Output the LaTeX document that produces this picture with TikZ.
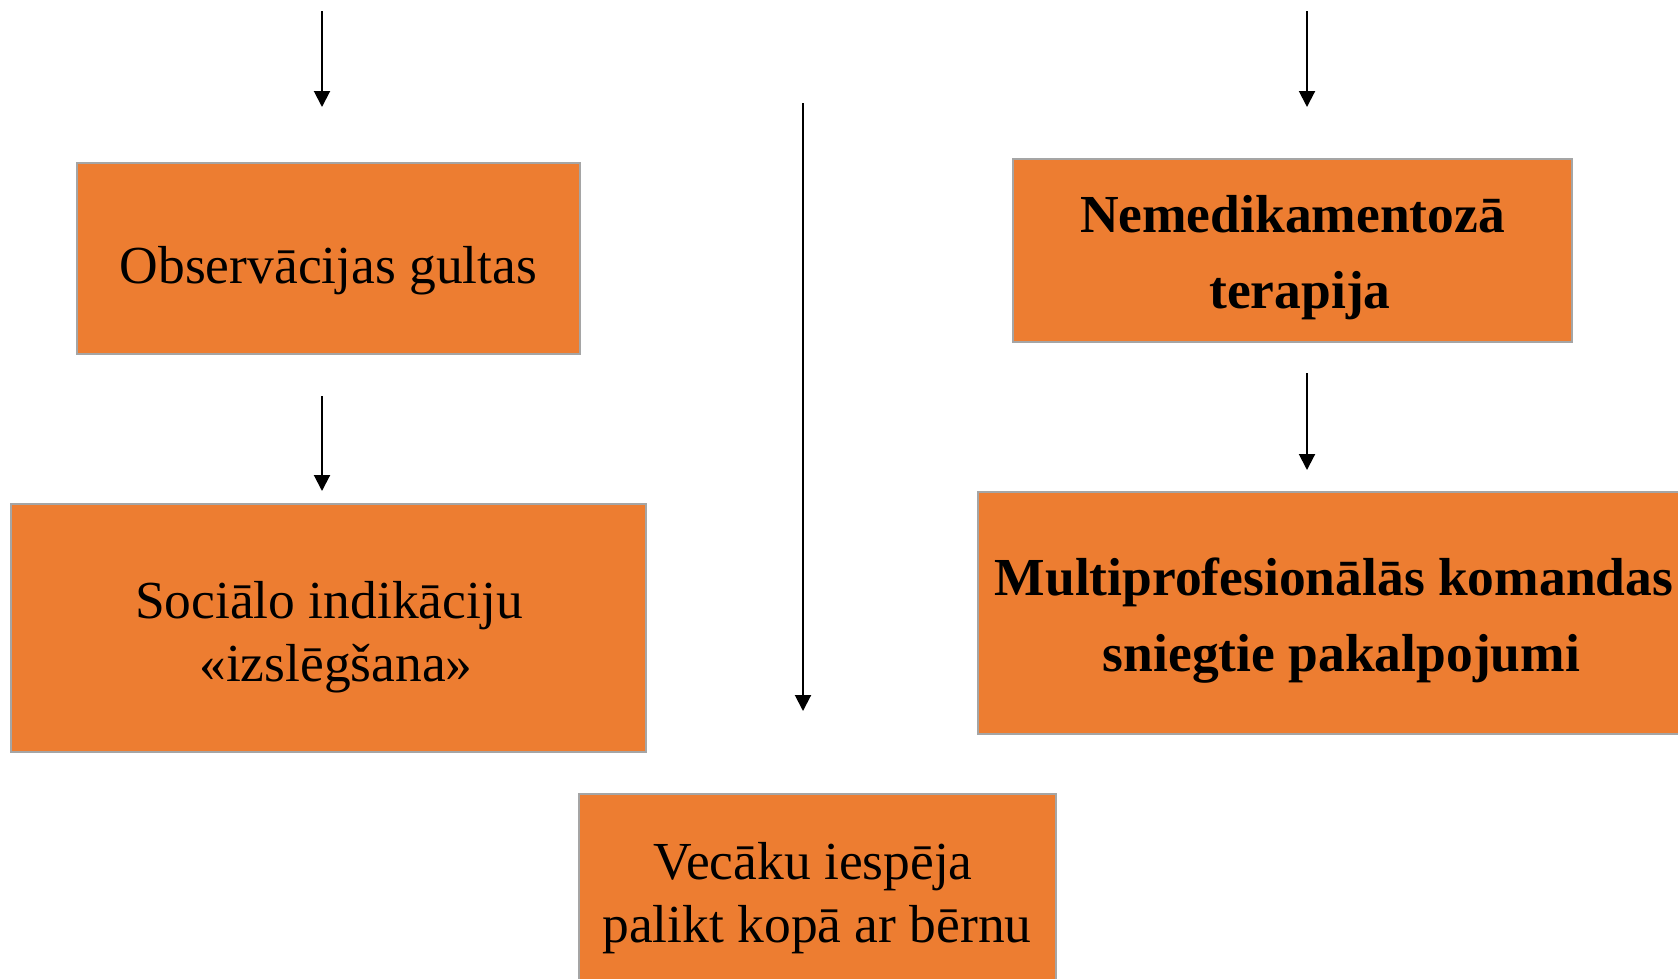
\documentclass[tikz,border=0pt]{standalone}
\usepackage{fontspec}
\setmainfont{Liberation Serif}
\usetikzlibrary{arrows.meta}
\definecolor{boxorange}{HTML}{ED7D31}
\definecolor{boxedge}{HTML}{A5A5A5}
\tikzset{
  box/.style={draw=boxedge, line width=1.2pt, fill=boxorange, inner sep=0pt},
  plain/.style={align=center, inner sep=0pt, text=black, font=\fontsize{53.5}{63}\selectfont},
  heavy/.style={align=center, inner sep=0pt, text=black, font=\fontsize{53.5}{76}\selectfont\bfseries},
  arr/.style={line width=2pt, -{Triangle[width=16pt,length=16pt]}}
}
\begin{document}
\begin{tikzpicture}[x=1pt,y=-1pt]
\useasboundingbox (0,0) rectangle (1678,978);
\clip (0,0) rectangle (1678,978);
\fill[white] (0,0) rectangle (1678,978);
% boxes
\node[box, minimum width=503pt, minimum height=191pt] (obs) at (328.5,258.5) {};
\node[box, minimum width=635pt, minimum height=248pt] (soc) at (328.5,628) {};
\node[box, minimum width=477pt, minimum height=198pt] (vec) at (817.5,893) {};
\node[box, minimum width=559pt, minimum height=183pt] (nem) at (1292.5,250.5) {};
\node[box, minimum width=712pt, minimum height=242pt] (mul) at (1334,613) {};
% texts
\node[plain] (obst) at (328.5,271) {Observācijas gultas};
\node[plain] (soct) at (329,637) {Sociālo indikāciju\\\hspace*{14pt}«izslēgšana»};
\node[plain] (vect) at (817,898) {Vecāku iespēja\hspace*{8pt}\\palikt kopā ar bērnu};
\node[heavy] (nemt) at (1292.5,258) {Nemedikamentozā\\\hspace*{15pt}terapija};
\node[heavy] (mult) at (1334,621) {Multiprofesionālās komandas\\\hspace*{15pt}sniegtie pakalpojumi};
% arrow ends
\coordinate (a1s) at (322,11);   \coordinate (a1e) at (322,107);
\coordinate (a2s) at (322,396);  \coordinate (a2e) at (322,491);
\coordinate (a3s) at (803,103);  \coordinate (a3e) at (803,711);
\coordinate (a4s) at (1307,11);  \coordinate (a4e) at (1307,107);
\coordinate (a5s) at (1307,373); \coordinate (a5e) at (1307,470);
\draw[arr] (a1s) -- (a1e);
\draw[arr] (a2s) -- (a2e);
\draw[arr] (a3s) -- (a3e);
\draw[arr] (a4s) -- (a4e);
\draw[arr] (a5s) -- (a5e);
\end{tikzpicture}
\end{document}
